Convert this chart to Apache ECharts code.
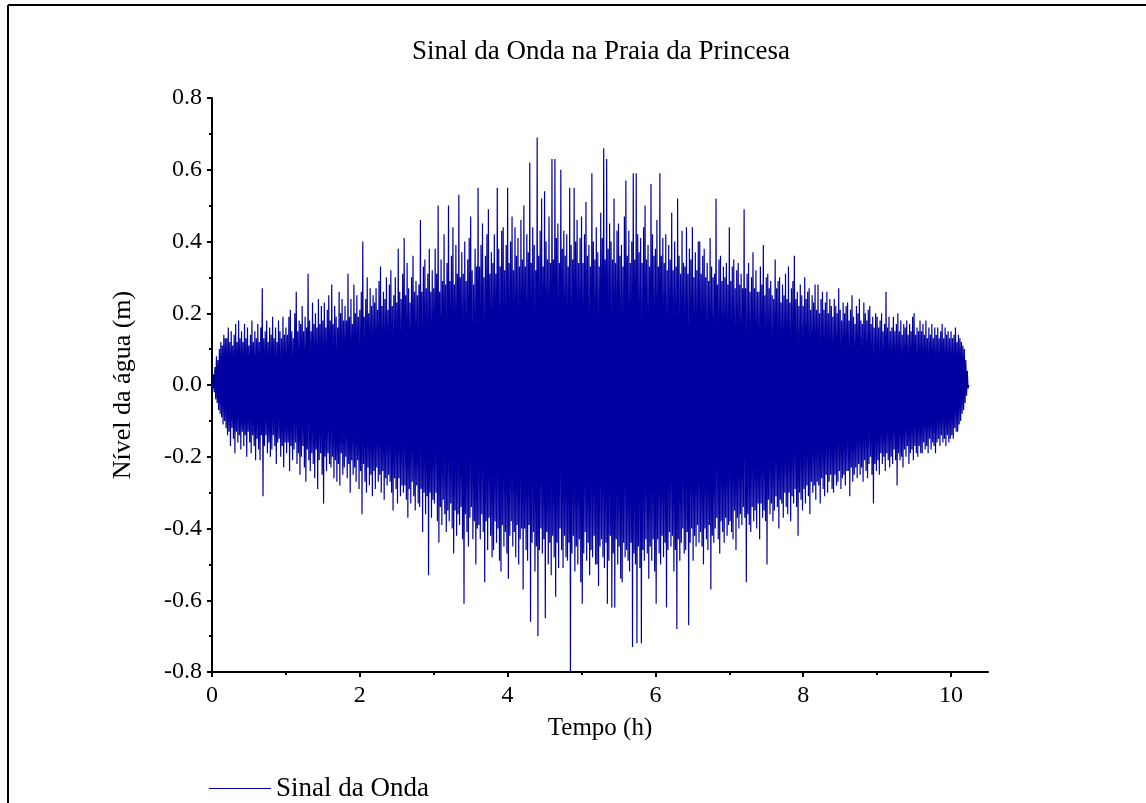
<!DOCTYPE html>
<html>
<head>
<meta charset="utf-8">
<title>Sinal da Onda na Praia da Princesa</title>
<script src="https://cdn.jsdelivr.net/npm/echarts@6/dist/echarts.min.js"></script>
<style>
  html, body { margin: 0; padding: 0; background: #fff; }
  #chart { width: 1146px; height: 803px; }
</style>
</head>
<body>
<div id="chart"></div>
<script>
  "use strict";

  // sampling step of the record, hours
  var PASSO_H = 0.01;

  // water level (m), one value per step (rows of 0.2 h)
  var nivelAgua = [
    0.00, -0.01, 0.03, -0.02, 0.05, -0.04, 0.08, -0.05, 0.07, -0.07, 0.10, -0.08, 0.12, -0.09, 0.11, -0.11, 0.14, -0.10, 0.13, -0.12,
    0.13, -0.14, 0.16, -0.13, 0.12, -0.17, 0.15, -0.12, 0.11, -0.15, 0.14, -0.19, 0.17, -0.13, 0.12, -0.16, 0.18, -0.14, 0.13, -0.18,
    0.15, -0.13, 0.12, -0.17, 0.17, -0.14, 0.13, -0.20, 0.16, -0.13, 0.11, -0.16, 0.14, -0.19, 0.18, -0.14, 0.12, -0.17, 0.15, -0.21,
    0.13, -0.15, 0.17, -0.18, 0.12, -0.21, 0.16, -0.14, 0.27, -0.31, 0.13, -0.17, 0.15, -0.14, 0.18, -0.19, 0.12, -0.16, 0.16, -0.20,
    0.14, -0.18, 0.19, -0.14, 0.13, -0.17, 0.16, -0.22, 0.12, -0.16, 0.18, -0.15, 0.15, -0.20, 0.13, -0.17, 0.19, -0.23, 0.14, -0.16,
    0.16, -0.19, 0.14, -0.16, 0.19, -0.24, 0.21, -0.17, 0.15, -0.21, 0.13, -0.18, 0.20, -0.16, 0.26, -0.22, 0.15, -0.19, 0.18, -0.25,
    0.17, -0.20, 0.22, -0.17, 0.15, -0.23, 0.19, -0.27, 0.16, -0.18, 0.31, -0.21, 0.18, -0.24, 0.15, -0.19, 0.23, -0.22, 0.17, -0.26,
    0.20, -0.18, 0.16, -0.29, 0.24, -0.21, 0.17, -0.19, 0.22, -0.25, 0.18, -0.33, 0.23, -0.20, 0.16, -0.24, 0.21, -0.19, 0.25, -0.22,
    0.18, -0.23, 0.28, -0.20, 0.17, -0.26, 0.22, -0.21, 0.19, -0.27, 0.16, -0.22, 0.26, -0.28, 0.20, -0.19, 0.24, -0.25, 0.18, -0.23,
    0.22, -0.20, 0.18, -0.26, 0.31, -0.22, 0.19, -0.30, 0.24, -0.21, 0.17, -0.25, 0.28, -0.23, 0.20, -0.27, 0.25, -0.21, 0.19, -0.29,
    0.21, -0.24, 0.26, -0.36, 0.40, -0.22, 0.19, -0.27, 0.24, -0.30, 0.30, -0.23, 0.20, -0.28, 0.27, -0.25, 0.22, -0.31, 0.25, -0.24,
    0.23, -0.29, 0.27, -0.23, 0.21, -0.27, 0.29, -0.25, 0.33, -0.30, 0.22, -0.24, 0.26, -0.32, 0.24, -0.26, 0.30, -0.28, 0.21, -0.25,
    0.28, -0.27, 0.32, -0.30, 0.22, -0.35, 0.25, -0.26, 0.30, -0.29, 0.23, -0.33, 0.38, -0.26, 0.26, -0.31, 0.24, -0.28, 0.31, -0.30,
    0.41, -0.28, 0.25, -0.32, 0.34, -0.37, 0.27, -0.29, 0.23, -0.33, 0.30, -0.27, 0.36, -0.31, 0.26, -0.35, 0.29, -0.28, 0.25, -0.33,
    0.28, -0.34, 0.46, -0.29, 0.26, -0.41, 0.33, -0.30, 0.35, -0.36, 0.27, -0.31, 0.31, -0.53, 0.38, -0.30, 0.26, -0.37, 0.32, -0.32,
    0.27, -0.33, 0.38, -0.30, 0.31, -0.38, 0.50, -0.44, 0.26, -0.34, 0.35, -0.39, 0.29, -0.32, 0.42, -0.36, 0.28, -0.41, 0.34, -0.35,
    0.50, -0.38, 0.29, -0.33, 0.36, -0.40, 0.44, -0.47, 0.28, -0.35, 0.39, -0.42, 0.31, -0.36, 0.53, -0.39, 0.30, -0.34, 0.37, -0.43,
    0.31, -0.61, 0.40, -0.36, 0.29, -0.41, 0.35, -0.45, 0.41, -0.37, 0.47, -0.34, 0.32, -0.43, 0.28, -0.38, 0.38, -0.50, 0.33, -0.40,
    0.55, -0.39, 0.33, -0.43, 0.39, -0.36, 0.45, -0.41, 0.30, -0.55, 0.36, -0.38, 0.42, -0.46, 0.49, -0.37, 0.31, -0.42, 0.37, -0.48,
    0.34, -0.46, 0.42, -0.38, 0.31, -0.44, 0.55, -0.40, 0.38, -0.49, 0.33, -0.52, 0.43, -0.39, 0.44, -0.45, 0.32, -0.41, 0.39, -0.47,
    0.55, -0.54, 0.34, -0.42, 0.40, -0.38, 0.47, -0.45, 0.32, -0.41, 0.44, -0.48, 0.36, -0.39, 0.41, -0.50, 0.33, -0.43, 0.46, -0.40,
    0.35, -0.57, 0.50, -0.40, 0.33, -0.46, 0.42, -0.49, 0.37, -0.39, 0.62, -0.66, 0.34, -0.44, 0.44, -0.41, 0.39, -0.52, 0.32, -0.45,
    0.69, -0.70, 0.36, -0.46, 0.43, -0.40, 0.52, -0.47, 0.33, -0.43, 0.54, -0.65, 0.40, -0.41, 0.35, -0.50, 0.47, -0.44, 0.34, -0.53,
    0.63, -0.42, 0.35, -0.48, 0.63, -0.59, 0.41, -0.44, 0.45, -0.51, 0.34, -0.40, 0.60, -0.46, 0.38, -0.51, 0.43, -0.42, 0.36, -0.48,
    0.42, -0.49, 0.33, -0.44, 0.55, -0.80, 0.39, -0.47, 0.35, -0.42, 0.55, -0.52, 0.40, -0.45, 0.46, -0.50, 0.34, -0.43, 0.41, -0.55,
    0.47, -0.61, 0.34, -0.47, 0.42, -0.41, 0.51, -0.49, 0.36, -0.44, 0.39, -0.53, 0.33, -0.46, 0.59, -0.48, 0.40, -0.42, 0.35, -0.50,
    0.44, -0.50, 0.37, -0.56, 0.33, -0.45, 0.48, -0.43, 0.41, -0.48, 0.66, -0.51, 0.35, -0.44, 0.63, -0.61, 0.38, -0.49, 0.45, -0.42,
    0.40, -0.62, 0.35, -0.47, 0.52, -0.62, 0.34, -0.43, 0.43, -0.50, 0.45, -0.45, 0.36, -0.54, 0.39, -0.55, 0.33, -0.44, 0.47, -0.48,
    0.57, -0.46, 0.36, -0.49, 0.43, -0.52, 0.34, -0.44, 0.40, -0.73, 0.59, -0.47, 0.35, -0.50, 0.59, -0.72, 0.42, -0.45, 0.37, -0.51,
    0.41, -0.72, 0.34, -0.46, 0.44, -0.49, 0.50, -0.43, 0.35, -0.47, 0.39, -0.54, 0.33, -0.45, 0.56, -0.49, 0.42, -0.43, 0.36, -0.52,
    0.38, -0.61, 0.46, -0.43, 0.33, -0.47, 0.59, -0.50, 0.36, -0.42, 0.41, -0.48, 0.34, -0.44, 0.42, -0.62, 0.32, -0.46, 0.39, -0.41,
    0.35, -0.45, 0.48, -0.42, 0.32, -0.52, 0.40, -0.46, 0.33, -0.68, 0.52, -0.43, 0.36, -0.49, 0.31, -0.44, 0.43, -0.40, 0.34, -0.47,
    0.33, -0.46, 0.44, -0.41, 0.31, -0.67, 0.38, -0.44, 0.35, -0.40, 0.44, -0.49, 0.30, -0.42, 0.37, -0.45, 0.32, -0.39, 0.40, -0.44,
    0.40, -0.41, 0.31, -0.45, 0.36, -0.50, 0.38, -0.40, 0.30, -0.43, 0.34, -0.46, 0.29, -0.39, 0.41, -0.57, 0.33, -0.42, 0.30, -0.44,
    0.31, -0.40, 0.52, -0.37, 0.28, -0.43, 0.35, -0.47, 0.36, -0.38, 0.29, -0.41, 0.33, -0.44, 0.30, -0.37, 0.34, -0.42, 0.28, -0.39,
    0.44, -0.38, 0.29, -0.41, 0.33, -0.43, 0.35, -0.35, 0.27, -0.46, 0.32, -0.37, 0.34, -0.40, 0.28, -0.36, 0.31, -0.39, 0.27, -0.34,
    0.49, -0.37, 0.27, -0.55, 0.31, -0.36, 0.34, -0.39, 0.26, -0.41, 0.30, -0.34, 0.37, -0.38, 0.27, -0.35, 0.32, -0.40, 0.26, -0.33,
    0.26, -0.43, 0.33, -0.33, 0.28, -0.37, 0.39, -0.35, 0.25, -0.38, 0.30, -0.50, 0.31, -0.32, 0.27, -0.36, 0.29, -0.33, 0.25, -0.38,
    0.24, -0.35, 0.35, -0.31, 0.27, -0.34, 0.29, -0.40, 0.30, -0.32, 0.23, -0.33, 0.28, -0.37, 0.25, -0.30, 0.31, -0.34, 0.24, -0.36,
    0.33, -0.30, 0.23, -0.38, 0.27, -0.31, 0.29, -0.33, 0.36, -0.29, 0.24, -0.34, 0.26, -0.42, 0.22, -0.30, 0.28, -0.32, 0.25, -0.35,
    0.22, -0.29, 0.30, -0.33, 0.24, -0.28, 0.26, -0.31, 0.27, -0.36, 0.21, -0.27, 0.25, -0.30, 0.23, -0.28, 0.28, -0.32, 0.21, -0.27,
    0.28, -0.28, 0.20, -0.33, 0.24, -0.26, 0.26, -0.29, 0.21, -0.31, 0.23, -0.25, 0.26, -0.30, 0.20, -0.27, 0.24, -0.25, 0.22, -0.29,
    0.19, -0.30, 0.24, -0.25, 0.22, -0.28, 0.20, -0.27, 0.27, -0.24, 0.21, -0.29, 0.18, -0.26, 0.23, -0.25, 0.20, -0.28, 0.22, -0.24,
    0.23, -0.24, 0.18, -0.31, 0.21, -0.23, 0.25, -0.27, 0.19, -0.25, 0.17, -0.23, 0.22, -0.26, 0.20, -0.22, 0.24, -0.25, 0.18, -0.23,
    0.17, -0.27, 0.23, -0.21, 0.20, -0.24, 0.18, -0.26, 0.21, -0.22, 0.22, -0.20, 0.17, -0.25, 0.19, -0.33, 0.16, -0.22, 0.20, -0.24,
    0.19, -0.21, 0.16, -0.25, 0.18, -0.19, 0.20, -0.22, 0.15, -0.20, 0.17, -0.24, 0.26, -0.19, 0.16, -0.21, 0.19, -0.23, 0.15, -0.20,
    0.16, -0.22, 0.19, -0.18, 0.15, -0.21, 0.17, -0.28, 0.20, -0.19, 0.15, -0.21, 0.18, -0.20, 0.14, -0.23, 0.17, -0.18, 0.16, -0.20,
    0.18, -0.17, 0.14, -0.22, 0.17, -0.19, 0.15, -0.18, 0.19, -0.21, 0.20, -0.17, 0.14, -0.19, 0.16, -0.20, 0.15, -0.17, 0.18, -0.19,
    0.15, -0.19, 0.17, -0.16, 0.14, -0.18, 0.18, -0.17, 0.13, -0.19, 0.16, -0.15, 0.14, -0.18, 0.17, -0.16, 0.13, -0.17, 0.16, -0.19,
    0.14, -0.16, 0.16, -0.15, 0.13, -0.17, 0.15, -0.14, 0.17, -0.16, 0.13, -0.15, 0.16, -0.17, 0.14, -0.14, 0.15, -0.16, 0.13, -0.15,
    0.15, -0.14, 0.13, -0.15, 0.14, -0.12, 0.16, -0.13, 0.12, -0.13, 0.14, -0.11, 0.13, -0.10, 0.12, -0.08, 0.11, -0.07, 0.10, -0.05,
    0.07, -0.03, 0.04, -0.01, 0.00
  ];

  var tempoTicks = [0, 2, 4, 6, 8, 10]
    , tempoMinorTicks = [1, 3, 5, 7, 9];

  var FONT = '"Liberation Serif", "Times New Roman", serif'
    , AZUL = '#0000a0';

  var serie = nivelAgua.map(function (v, i) {
    return [+(i * PASSO_H).toFixed(2), v];
  });

  var chart = echarts.init(document.getElementById('chart'), null, { renderer: 'canvas' });

  chart.setOption({
    animation: false,
    backgroundColor: '#fff',
    textStyle: { fontFamily: FONT, color: '#000' },
    title: {
      text: 'Sinal da Onda na Praia da Princesa',
      left: 596,
      top: 33,
      textAlign: 'center',
      textStyle: { fontFamily: FONT, fontSize: 27, fontWeight: 'normal', color: '#000' }
    },
    legend: {
      left: 209,
      top: 775,
      padding: 0,
      icon: 'rect',
      itemWidth: 62,
      itemHeight: 1,
      data: ['Sinal da Onda'],
      textStyle: { fontFamily: FONT, fontSize: 27, color: '#000' }
    },
    grid: { left: 212, right: 158, top: 98, bottom: 131, containLabel: false },
    // frame around the figure (only top and left edges are visible)
    graphic: [
      { type: 'line', shape: { x1: 8, y1: 5, x2: 1146, y2: 5 }, style: { stroke: '#000', lineWidth: 2 } },
      { type: 'line', shape: { x1: 8, y1: 5, x2: 8, y2: 803 }, style: { stroke: '#000', lineWidth: 2 } }
    ],
    xAxis: [
      {
        type: 'value',
        min: 0,
        max: 10.5,
        interval: 2,
        name: 'Tempo (h)',
        nameLocation: 'middle',
        nameGap: 44,
        nameTextStyle: { fontFamily: FONT, fontSize: 25, color: '#000' },
        axisLine: { onZero: false, lineStyle: { color: '#000', width: 2 } },
        axisTick: { customValues: tempoTicks, length: 5, lineStyle: { color: '#000', width: 2 } },
        axisLabel: { customValues: tempoTicks, margin: 12, fontFamily: FONT, fontSize: 24, color: '#000' },
        splitLine: { show: false }
      },
      {
        type: 'value',
        position: 'bottom',
        min: 0,
        max: 10.5,
        axisLine: { show: false, onZero: false },
        axisTick: { customValues: tempoMinorTicks, length: 3, lineStyle: { color: '#000', width: 2 } },
        axisLabel: { show: false },
        splitLine: { show: false }
      }
    ],
    yAxis: {
      type: 'value',
      min: -0.8,
      max: 0.8,
      interval: 0.2,
      name: 'Nível da água (m)',
      nameLocation: 'middle',
      nameGap: 76,
      nameTextStyle: { fontFamily: FONT, fontSize: 26, color: '#000' },
      axisLine: { show: true, onZero: false, lineStyle: { color: '#000', width: 2 } },
      axisTick: { show: true, length: 5, lineStyle: { color: '#000', width: 2 } },
      minorTick: { show: true, splitNumber: 2, length: 3, lineStyle: { color: '#000', width: 2 } },
      axisLabel: {
        margin: 10,
        fontFamily: FONT,
        fontSize: 24,
        color: '#000',
        formatter: function (v) { return v.toFixed(1); }
      },
      splitLine: { show: false }
    },
    series: [{
      name: 'Sinal da Onda',
      type: 'line',
      xAxisIndex: 0,
      data: serie,
      showSymbol: false,
      symbol: 'none',
      sampling: null,
      lineStyle: { color: AZUL, width: 1.2 },
      itemStyle: { color: AZUL }
    }]
  });
</script>
</body>
</html>
